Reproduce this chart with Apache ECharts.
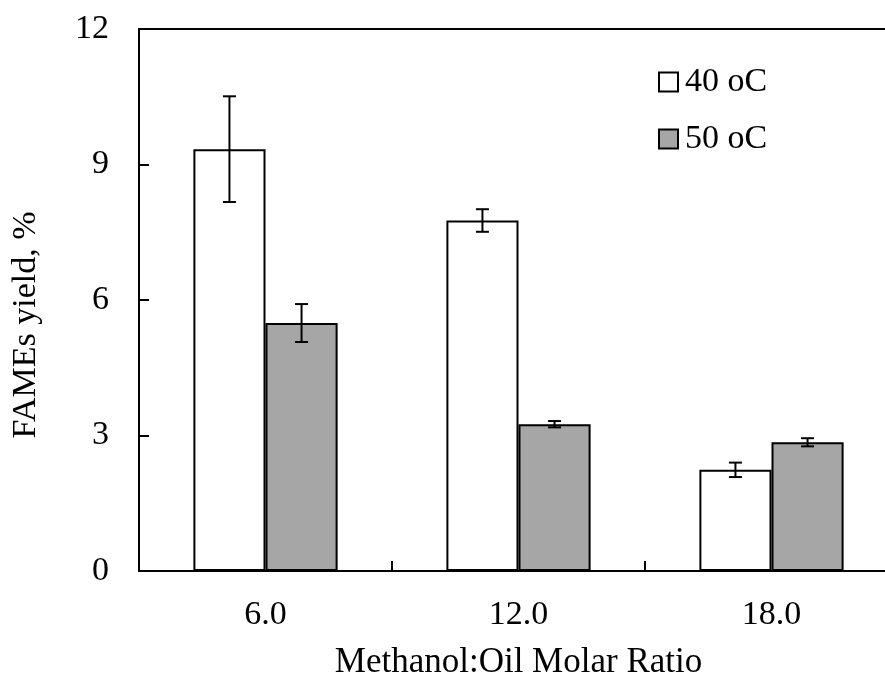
<!DOCTYPE html>
<html>
<head>
<meta charset="utf-8">
<script src="https://cdn.jsdelivr.net/npm/echarts@6/dist/echarts.min.js"></script>
<style>
html,body{margin:0;padding:0;background:#fff;overflow:hidden;}
#chart{width:885px;height:673px;}
</style>
</head>
<body>
<div id="chart"></div>
<script>
var categories = ['6.0', '12.0', '18.0'];
var seriesNames = ['40 oC', '50 oC'];
var yield40 = [9.34, 7.76, 2.24];
var err40 = [1.17, 0.25, 0.16];
var yield50 = [5.49, 3.25, 2.85];
var err50 = [0.42, 0.07, 0.09];
var yTicks = [0, 3, 6, 9, 12];

var FONT = "'Liberation Serif', 'Times New Roman', serif";
var GAP = 0.43;

function errData(vals, errs) {
  return vals.map(function (v, i) { return [i, v - errs[i], v + errs[i]]; });
}

function errRender(side) {
  return function (params, api) {
    var idx = api.value(0);
    var lo = api.coord([idx, api.value(1)]);
    var hi = api.coord([idx, api.value(2)]);
    var band = api.size([1, 0])[0];
    var bw = band * (1 - GAP) / 2;
    var x = lo[0] + side * bw / 2;
    var cap = 6.5;
    var st = { stroke: '#000', lineWidth: 2 };
    return {
      type: 'group',
      children: [
        { type: 'line', shape: { x1: x, y1: lo[1], x2: x, y2: hi[1] }, style: st },
        { type: 'line', shape: { x1: x - cap, y1: lo[1], x2: x + cap, y2: lo[1] }, style: st },
        { type: 'line', shape: { x1: x - cap, y1: hi[1], x2: x + cap, y2: hi[1] }, style: st }
      ]
    };
  };
}

var chart = echarts.init(document.getElementById('chart'), null, { renderer: 'canvas' });
chart.setOption({
  backgroundColor: '#fff',
  animation: false,
  textStyle: { fontFamily: FONT, color: '#000' },
  grid: {
    left: 139, top: 29, width: 759, height: 542,
    outerBoundsMode: 'none', containLabel: false, show: false
  },
  legend: {
    orient: 'vertical',
    left: 653,
    top: 60,
    itemWidth: 19,
    itemHeight: 19,
    itemGap: 23,
    icon: 'rect',
    data: seriesNames,
    textStyle: { fontFamily: FONT, fontSize: 34, color: '#000', padding: [0, 0, 0, 2] }
  },
  xAxis: [{
    type: 'category',
    data: categories,
    name: 'Methanol:Oil Molar Ratio',
    nameLocation: 'middle',
    nameGap: 74,
    nameTextStyle: { fontFamily: FONT, fontSize: 35, color: '#000' },
    axisLine: { show: true, lineStyle: { color: '#000', width: 2 } },
    axisTick: { show: true, inside: true, length: 10, alignWithLabel: false, lineStyle: { color: '#000', width: 2 } },
    axisLabel: { fontFamily: FONT, fontSize: 34, color: '#000', margin: 27 },
    splitLine: { show: false }
  }, {
    type: 'category',
    data: categories,
    position: 'top',
    axisLine: { show: true, lineStyle: { color: '#000', width: 2 } },
    axisTick: { show: false },
    axisLabel: { show: false },
    splitLine: { show: false }
  }],
  yAxis: {
    type: 'value',
    min: 0,
    max: 12,
    interval: 3,
    axisLine: { show: true, lineStyle: { color: '#000', width: 2 } },
    axisTick: { show: true, inside: true, length: 10, lineStyle: { color: '#000', width: 2 } },
    axisLabel: {
      fontFamily: FONT, fontSize: 34, color: '#000', margin: 30,
      formatter: function (v) { return yTicks.indexOf(v) >= 0 ? String(v) : ''; }
    },
    splitLine: { show: false }
  },
  graphic: [{
    type: 'text',
    x: 26,
    y: 325,
    rotation: Math.PI / 2,
    style: {
      text: 'FAMEs yield, %',
      fontFamily: FONT,
      fontSize: 34,
      fill: '#000',
      align: 'center',
      verticalAlign: 'middle'
    }
  }],
  series: [
    {
      name: seriesNames[0],
      type: 'bar',
      data: yield40,
      barGap: '0%',
      barCategoryGap: (GAP * 100) + '%',
      itemStyle: { color: '#ffffff', borderColor: '#000', borderWidth: 2 }
    },
    {
      name: seriesNames[1],
      type: 'bar',
      data: yield50,
      barGap: '0%',
      barCategoryGap: (GAP * 100) + '%',
      itemStyle: { color: '#a6a6a6', borderColor: '#000', borderWidth: 2 }
    },
    {
      type: 'custom',
      name: 'err40',
      renderItem: errRender(-1),
      data: errData(yield40, err40),
      encode: { x: 0, y: [1, 2] },
      z: 10
    },
    {
      type: 'custom',
      name: 'err50',
      renderItem: errRender(1),
      data: errData(yield50, err50),
      encode: { x: 0, y: [1, 2] },
      z: 10
    }
  ]
});
</script>
</body>
</html>
